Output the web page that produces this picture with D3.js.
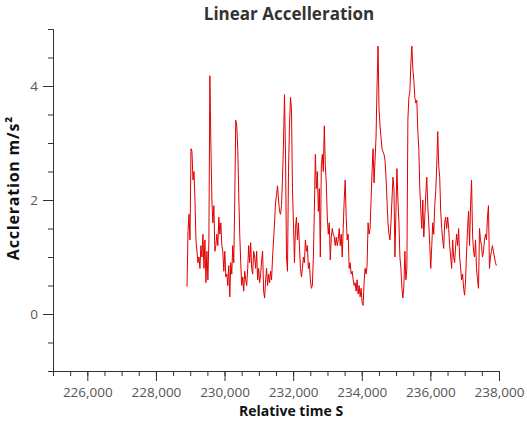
<!DOCTYPE html>
<meta charset="utf-8">
<style>
body { margin: 0; background: #fff; }
text { font-family: "Open Sans", sans-serif; }
.axis path, .axis line { stroke: #333; }
.axis text { fill: #555; font-size: 13.5px; }
</style>
<body>
<svg width="527" height="427"></svg>
<script src="https://d3js.org/d3.v7.min.js"></script>
<script>
// time stamps (relative time S)
var time = [
  228906, 228935, 228964, 228993, 229022, 229051, 229080, 229109, 229138, 229167,
  229196, 229225, 229254, 229283, 229312, 229341, 229370, 229399, 229428, 229457,
  229486, 229515, 229544, 229573, 229602, 229631, 229660, 229689, 229718, 229747,
  229776, 229805, 229834, 229863, 229892, 229921, 229950, 229979, 230008, 230037,
  230066, 230095, 230124, 230153, 230182, 230211, 230240, 230269, 230298, 230327,
  230356, 230385, 230414, 230443, 230472, 230501, 230530, 230559, 230588, 230617,
  230646, 230675, 230704, 230733, 230762, 230791, 230820, 230849, 230878, 230907,
  230936, 230965, 230994, 231023, 231052, 231081, 231110, 231139, 231168, 231197,
  231226, 231255, 231284, 231313, 231342, 231371, 231400, 231429, 231458, 231487,
  231516, 231545, 231574, 231603, 231632, 231661, 231690, 231719, 231748, 231777,
  231806, 231835, 231864, 231893, 231922, 231951, 231980, 232009, 232038, 232067,
  232096, 232125, 232154, 232183, 232212, 232241, 232270, 232299, 232328, 232357,
  232386, 232415, 232444, 232473, 232502, 232531, 232560, 232589, 232618, 232647,
  232676, 232705, 232734, 232763, 232792, 232821, 232850, 232879, 232908, 232937,
  232966, 232995, 233024, 233053, 233082, 233111, 233140, 233169, 233198, 233227,
  233256, 233285, 233314, 233343, 233372, 233401, 233430, 233459, 233488, 233517,
  233546, 233575, 233604, 233633, 233662, 233691, 233720, 233749, 233778, 233807,
  233836, 233865, 233894, 233923, 233952, 233981, 234010, 234039, 234068, 234097,
  234126, 234155, 234184, 234213, 234242, 234271, 234300, 234329, 234358, 234387,
  234416, 234445, 234474, 234503, 234532, 234561, 234590, 234619, 234648, 234677,
  234706, 234735, 234764, 234793, 234822, 234851, 234880, 234909, 234938, 234967,
  234996, 235025, 235054, 235083, 235112, 235141, 235170, 235199, 235228, 235257,
  235286, 235315, 235344, 235373, 235402, 235431, 235460, 235489, 235518, 235547,
  235576, 235605, 235634, 235663, 235692, 235721, 235750, 235779, 235808, 235837,
  235866, 235895, 235924, 235953, 235982, 236011, 236040, 236069, 236098, 236127,
  236156, 236185, 236214, 236243, 236272, 236301, 236330, 236359, 236388, 236417,
  236446, 236475, 236504, 236533, 236562, 236591, 236620, 236649, 236678, 236707,
  236736, 236765, 236794, 236823, 236852, 236881, 236910, 236939, 236968, 236997,
  237026, 237055, 237084, 237113, 237142, 237171, 237200, 237229, 237258, 237287,
  237316, 237345, 237374, 237403, 237432, 237461, 237490, 237519, 237548, 237577,
  237606, 237635, 237664, 237693, 237722, 237751, 237780, 237809, 237838, 237867,
  237896, 237925
];

// acceleration magnitude m/s^2
var accel = [
  0.48, 1.45, 1.75, 1.3, 2.9, 2.85, 2.35, 2.5, 2.0, 1.3,
  1.1, 0.9, 1.0, 0.8, 1.2, 1.0, 1.4, 0.8, 1.3, 0.55,
  1.1, 0.6, 1.3, 4.18, 3.0, 2.0, 1.6, 1.9, 1.1, 1.2,
  1.4, 1.2, 1.7, 1.4, 1.6, 1.2, 1.1, 0.75, 1.1, 0.65,
  0.7, 0.5, 0.85, 0.3, 0.9, 0.7, 1.2, 0.9, 2.0, 3.4,
  3.3, 2.9, 2.1, 1.4, 0.9, 0.5, 0.65, 0.4, 0.75, 0.6,
  0.5, 0.8, 1.2, 0.9, 1.25, 0.8, 0.7, 1.1, 1.0, 0.8,
  1.1, 0.6, 0.8, 0.55, 0.7, 0.95, 1.1, 0.4, 0.28, 0.6,
  0.8, 0.5, 0.7, 0.55, 0.75, 0.6, 1.0, 1.3, 1.6, 1.95,
  2.1, 2.25, 2.0, 1.8, 1.75, 1.9, 2.4, 3.0, 3.85, 2.8,
  1.0, 0.75, 2.5, 3.3, 3.8, 3.6, 2.2, 1.6, 0.9, 1.5,
  1.7, 1.3, 1.6, 1.2, 0.8, 0.65, 0.8, 1.0, 0.9, 1.3,
  1.1, 1.2, 0.8, 0.9, 0.6, 0.45, 0.5, 1.0, 1.8, 2.8,
  2.2, 2.5, 1.8, 2.2, 1.0, 2.6, 2.8, 2.5, 3.3, 2.6,
  2.3, 1.7, 1.4, 1.6, 0.95, 1.35, 1.5, 1.4, 1.35, 1.2,
  1.35, 1.2, 1.3, 1.5, 1.2, 1.4, 1.0, 1.5, 2.0, 2.35,
  1.7, 1.3, 1.4, 0.8, 0.9, 0.7, 0.75, 0.6, 0.5, 0.55,
  0.4, 0.6, 0.35, 0.5, 0.3, 0.45, 0.2, 0.15, 0.55, 0.8,
  0.7, 0.85, 1.6, 1.4, 1.5, 2.0, 2.5, 2.9, 2.3, 2.7,
  3.1, 4.0, 4.7, 3.6, 3.3, 3.1, 2.9, 2.85, 2.8, 2.7,
  2.4, 2.0, 1.6, 1.4, 1.3, 1.6, 2.0, 2.4, 2.2, 1.0,
  1.8, 2.55, 2.0, 1.6, 1.0, 0.8, 0.45, 0.28, 0.5, 1.1,
  0.6, 0.8, 3.4, 3.8, 3.9, 4.4, 4.7, 4.3, 4.1, 3.8,
  3.7, 3.75, 3.2, 2.9, 2.2, 1.8, 1.5, 2.0, 1.35, 1.7,
  2.1, 2.4, 1.9, 1.6, 1.2, 0.8, 1.2, 1.6, 1.4, 1.9,
  2.15, 2.6, 3.2, 2.6, 2.4, 1.8, 1.5, 1.3, 1.15, 1.6,
  1.7, 1.5, 1.7, 1.5, 1.2, 1.0, 0.8, 1.3, 1.0, 0.9,
  1.2, 1.4, 1.2, 1.5, 1.0, 0.8, 0.6, 0.7, 0.45, 0.33,
  0.6, 1.1, 1.5, 1.8, 1.2, 1.9, 2.35, 1.4, 1.1, 1.0,
  1.3, 0.8, 0.6, 0.45, 1.5, 1.3, 1.2, 1.0, 1.1, 1.3,
  1.4, 1.3, 1.7, 1.9, 0.8, 1.0, 1.1, 1.2, 1.1, 1.0,
  0.9, 0.85
];

var xDomain = [225000, 238000];
var yDomain = [-1, 5];
var xMajor = [226000, 228000, 230000, 232000, 234000, 236000, 238000];
var yMajor = [0, 2, 4];

var svg = d3.select("svg");
var margin = {top: 29, right: 28, bottom: 56, left: 53};
var width = +svg.attr("width") - margin.left - margin.right,
    height = +svg.attr("height") - margin.top - margin.bottom;

var x = d3.scaleLinear().domain(xDomain).range([0, width]);
var y = d3.scaleLinear().domain(yDomain).range([height, 0]);

var g = svg.append("g").attr("transform", "translate(" + margin.left + "," + margin.top + ")");

// minor ticks every 500 s / 0.5 m/s2
g.append("g").attr("class", "axis")
    .attr("transform", "translate(0," + height + ")")
    .call(d3.axisBottom(x).tickValues(d3.range(xDomain[0], xDomain[1] + 1, 500)).tickSize(5).tickSizeOuter(0).tickFormat(""));
g.append("g").attr("class", "axis")
    .attr("transform", "translate(0," + height + ")")
    .call(d3.axisBottom(x).tickValues(xMajor).tickSize(10).tickSizeOuter(0).tickPadding(6).tickFormat(d3.format(",")));

g.append("g").attr("class", "axis")
    .call(d3.axisLeft(y).tickValues(d3.range(yDomain[0], yDomain[1] + 0.01, 0.5)).tickSize(5).tickSizeOuter(0).tickFormat(""));
g.append("g").attr("class", "axis")
    .call(d3.axisLeft(y).tickValues(yMajor).tickSize(10).tickSizeOuter(0).tickPadding(5).tickFormat(d3.format("d")));

var line = d3.line()
    .x(function(d, i) { return x(time[i]); })
    .y(function(d) { return y(d); });

g.append("path")
    .datum(accel)
    .attr("fill", "none")
    .attr("stroke", "#e00000")
    .attr("stroke-width", 1)
    .attr("stroke-linejoin", "round")
    .attr("d", line);

// titles
svg.append("text")
    .attr("x", 289).attr("y", 20)
    .attr("text-anchor", "middle")
    .style("font-size", "17px").style("font-weight", "bold").attr("fill", "#333")
    .text("Linear Accelleration");

svg.append("text")
    .attr("x", 291).attr("y", 416)
    .attr("text-anchor", "middle")
    .style("font-size", "14px").style("font-weight", "bold").attr("fill", "#111")
    .text("Relative time S");

svg.append("text")
    .attr("transform", "translate(19,188) rotate(-90)")
    .attr("text-anchor", "middle")
    .style("font-size", "16px").style("font-weight", "bold").style("letter-spacing", "0.8px").attr("fill", "#111")
    .text("Accleration m/s²");
</script>
